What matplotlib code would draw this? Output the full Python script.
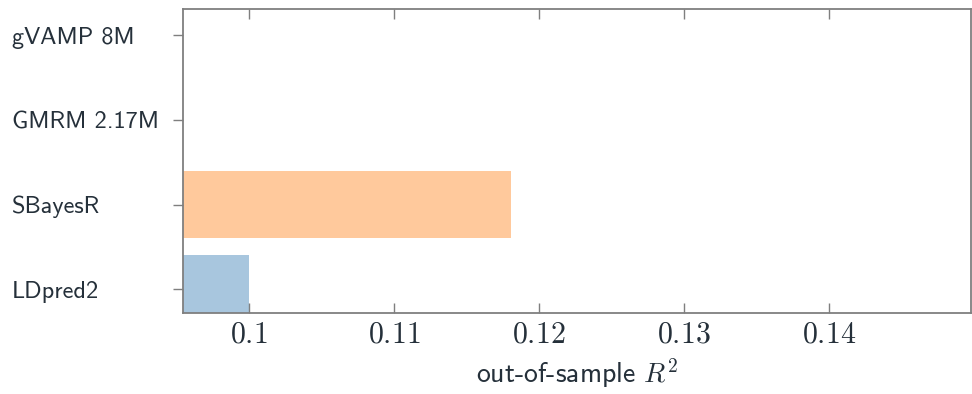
import numpy as np
import matplotlib
matplotlib.use("Agg")
import matplotlib.pyplot as plt
from matplotlib.ticker import FuncFormatter

# data (bottom to top)
methods = ["LDpred2", "SBayesR", "GMRM 2.17M", "gVAMP 8M"]
r2 = [0.1000, 0.1181, np.nan, np.nan]
colors = ["#a8c6de", "#ffc99c", "#1f3a5f", "#1f3a5f"]
xticks = [0.10, 0.11, 0.12, 0.13, 0.14]

plt.rcParams["font.family"] = ["cmss10", "Lato", "DejaVu Sans"]
plt.rcParams["mathtext.fontset"] = "cm"
plt.rcParams["axes.unicode_minus"] = False

fig = plt.figure(figsize=(9.72, 3.94), dpi=100)
ax = fig.add_axes([183 / 972, 1 - 313 / 394, (971 - 183) / 972, (313 - 9) / 394])

y = np.arange(len(methods))
ax.barh(y, r2, height=0.8, color=colors, edgecolor="none")

ax.set_xlim(0.09545, 0.1498)
ax.set_ylim(-0.28, 3.31)

ax.set_yticks(y)
ax.set_yticklabels(methods, fontsize=17.5, color="#25303a", ha="left")
ax.set_xticks(xticks)
ax.xaxis.set_major_formatter(FuncFormatter(lambda v, p: "$%g$" % round(v, 3)))

grey = "#7f7f7f"
for s in ax.spines.values():
    s.set_color(grey)
    s.set_linewidth(1.3)

ax.tick_params(axis="x", direction="in", top=True, length=7, width=1, color=grey,
               labelsize=21.5, labelcolor="#25303a", pad=6)
ax.tick_params(axis="y", direction="out", length=7, width=1, color=grey,
               pad=(183 - 12) * 72 / 100 - 7)

ax.set_xlabel("out-of-sample $R^2$", fontsize=20, color="#25303a", labelpad=6)

fig.savefig("out.png", dpi=100)
